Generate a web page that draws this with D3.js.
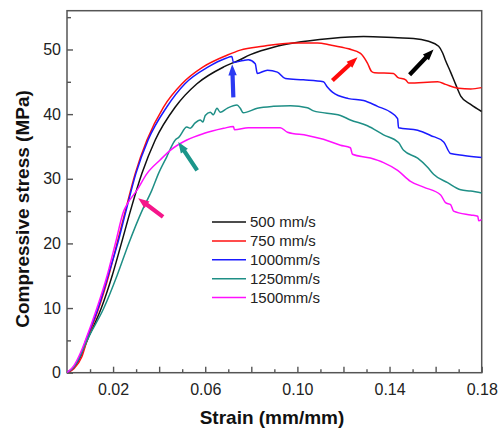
<!DOCTYPE html>
<html>
<head>
<meta charset="utf-8">
<script src="https://cdn.jsdelivr.net/npm/d3@7"></script>
<style>
  html, body { margin: 0; padding: 0; background: #fff; }
  svg { display: block; }
  text { font-family: "Liberation Sans", Arial, sans-serif; }
</style>
</head>
<body>
<svg id="chart" width="501" height="433"></svg>
<script>
// ---------- data (strain mm/mm, stress MPa) ----------
const seriesNames = ["500 mm/s", "750 mm/s", "1000mm/s", "1250mm/s", "1500mm/s"];
const seriesColors = ["#111111", "#ff1010", "#1a1aff", "#1f8f86", "#ff10ff"];

const s500 = [[0,0],[0.003,0.8],[0.006,2.6],[0.009,5.2],[0.0149,10],[0.0196,15],[0.0236,20],[0.0275,25],[0.0325,30.8],[0.0383,36],[0.047,41.1],[0.0564,44.7],[0.068,47.3],[0.0744,48.3],[0.0796,49.2],[0.09,50.4],[0.0983,51.0],[0.1143,51.7],[0.1287,52.0],[0.1435,51.8],[0.1504,51.7],[0.1565,51.3],[0.1613,50.5],[0.163,49.5],[0.1643,48.3],[0.1665,46.5],[0.1687,44.6],[0.1709,42.8],[0.1752,41.5],[0.18,40.4]];

const s750 = [[0,0],[0.003,0.6],[0.0065,2.5],[0.0087,5],[0.0138,10],[0.0181,15],[0.0217,20],[0.0253,25],[0.0296,30.8],[0.0347,36],[0.0419,41.1],[0.0499,44.7],[0.0591,47.3],[0.0694,49.1],[0.0752,49.9],[0.085,50.5],[0.0983,51.0],[0.1087,51.0],[0.1143,50.7],[0.1222,50.1],[0.1274,49.4],[0.1304,47.9],[0.1322,46.6],[0.1335,46.4],[0.1417,46.3],[0.1435,45.7],[0.147,45.3],[0.1483,44.8],[0.1609,45.0],[0.1643,44.6],[0.17,44.0],[0.1752,43.9],[0.18,44.1]];

const s1000 = [[0,0],[0.003,0.9],[0.006,2.8],[0.0082,5],[0.0135,10],[0.0178,15],[0.022,20],[0.0256,25],[0.0299,30.8],[0.0352,36],[0.0433,41.1],[0.0512,44.7],[0.0613,47.3],[0.0687,48.6],[0.0716,48.9],[0.0722,48.0],[0.0765,48.3],[0.0787,48.4],[0.0817,47.8],[0.0826,46.3],[0.087,46.8],[0.0913,46.5],[0.0948,45.5],[0.1026,45.3],[0.1113,45.0],[0.113,44.2],[0.1152,43.4],[0.1222,42.4],[0.1287,42.1],[0.1348,41.2],[0.1404,40.3],[0.1435,39.3],[0.1439,37.9],[0.1522,37.5],[0.1578,36.7],[0.1635,35.7],[0.1665,33.9],[0.1722,33.6],[0.18,33.3]];

const s1250 = [[0,0],[0.003,0.9],[0.006,2.8],[0.0087,5],[0.016,10],[0.0217,15],[0.0268,20],[0.0325,25],[0.0368,28.2],[0.0397,30.8],[0.0433,33.4],[0.047,36],[0.0485,36.4],[0.052,38],[0.0535,37.8],[0.0555,38.6],[0.0578,39.1],[0.059,38.8],[0.06,39.8],[0.0622,40.3],[0.0635,39.9],[0.0651,40.9],[0.0665,40.3],[0.0695,40.9],[0.0738,41.4],[0.0752,40.9],[0.0765,40.2],[0.0826,40.9],[0.0896,41.2],[0.097,41.3],[0.1043,41.0],[0.107,40.5],[0.1187,39.8],[0.123,39.1],[0.1304,38.2],[0.1374,36.8],[0.1439,35.6],[0.1461,34.4],[0.1522,33.2],[0.1565,31.8],[0.1591,30.7],[0.1652,29.4],[0.1709,28.3],[0.1752,28.1],[0.18,27.8]];

const s1500 = [[0,0],[0.003,1.1],[0.006,3.2],[0.008,5],[0.013,10],[0.0174,15],[0.021,20],[0.0246,25],[0.0265,26.3],[0.0303,28.2],[0.0347,30.8],[0.0404,32.9],[0.0448,34.4],[0.052,36],[0.0593,37],[0.068,37.8],[0.0722,38.1],[0.0727,37.6],[0.0787,37.9],[0.0926,37.9],[0.0957,37.2],[0.1043,36.7],[0.1113,36.1],[0.1187,35.2],[0.123,34.8],[0.1239,33.8],[0.1317,33.2],[0.1374,32.5],[0.1435,31.3],[0.1491,29.6],[0.1548,28.7],[0.1622,27.5],[0.1643,26.3],[0.1665,26.0],[0.1678,25.0],[0.1752,24.4],[0.1783,24.2],[0.1787,23.5],[0.18,23.7]];

const allSeries = [s500, s750, s1000, s1250, s1500];

// arrows: [tailStrain, tailStress, tipStrain, tipStress]
const arrowData = [
  [0.0417, 24.1, 0.0309, 27.0],
  [0.0565, 31.3, 0.0483, 35.7],
  [0.0722, 42.6, 0.0717, 47.7],
  [0.1152, 45.2, 0.1261, 48.8],
  [0.1487, 46.1, 0.1591, 50.0]
];
const arrowColors = ["#f5168a", "#1b968a", "#2b3af2", "#ff0a0a", "#000000"];

const xMajor = [0.02,0.04,0.06,0.08,0.10,0.12,0.14,0.16,0.18];
const xLabels = [0.02,0.06,0.10,0.14,0.18];
const xMinor = [0.01,0.03,0.05,0.07,0.09,0.11,0.13,0.15,0.17];
const yMajor = [0,10,20,30,40,50];
const yMinor = [5,15,25,35,45,55];

// ---------- layout ----------
const L = 67, R = 481.7, T = 10.7, B = 372.7;
const svg = d3.select("#chart");
const x = d3.scaleLinear().domain([0, 0.18]).range([L, R]);
const y = d3.scaleLinear().domain([0, 56]).range([B, T]);

svg.append("defs").append("clipPath").attr("id","clip")
  .append("rect").attr("x", L).attr("y", T).attr("width", R - L).attr("height", B - T);

// axes
const fmt = d3.format(".2f");
const gx = svg.append("g").attr("transform", `translate(0,${B})`)
  .call(d3.axisBottom(x).tickValues(xMajor).tickSize(-6).tickPadding(11)
    .tickFormat(d => xLabels.some(v => Math.abs(v - d) < 1e-9) ? fmt(d) : ""));
const gxm = svg.append("g").attr("transform", `translate(0,${B})`)
  .call(d3.axisBottom(x).tickValues(xMinor).tickSize(-3.5).tickFormat(""));
const gy = svg.append("g").attr("transform", `translate(${L},0)`)
  .call(d3.axisLeft(y).tickValues(yMajor).tickSize(-6).tickPadding(6).tickFormat(d3.format("d")));
const gym = svg.append("g").attr("transform", `translate(${L},0)`)
  .call(d3.axisLeft(y).tickValues(yMinor).tickSize(-4).tickFormat(""));

[gx, gxm, gy, gym].forEach(g => {
  g.select(".domain").remove();
  g.selectAll(".tick line").attr("stroke", "#555").attr("stroke-width", 1.4);
  g.selectAll(".tick text").attr("fill", "#222").style("font-size", "16px")
    .style("font-family", "'Liberation Sans', Arial, sans-serif");
});

// frame
svg.append("rect").attr("x", L).attr("y", T).attr("width", R - L).attr("height", B - T)
  .attr("fill", "none").attr("stroke", "#555").attr("stroke-width", 1.5);

// lines
const line = d3.line().x(d => x(d[0])).y(d => y(d[1])).curve(d3.curveMonotoneX);
const plot = svg.append("g").attr("clip-path", "url(#clip)");
plot.selectAll("path.series").data(allSeries).join("path")
  .attr("class", "series")
  .attr("d", line)
  .attr("fill", "none")
  .attr("stroke", (d, i) => seriesColors[i])
  .attr("stroke-width", 1.5)
  .attr("stroke-linejoin", "round");

// arrows
arrowData.forEach((a, i) => {
  const x0 = x(a[0]), y0 = y(a[1]), x1 = x(a[2]), y1 = y(a[3]);
  const dx = x1 - x0, dy = y1 - y0, len = Math.hypot(dx, dy);
  const ux = dx / len, uy = dy / len, px = -uy, py = ux;
  const headL = 11, headW = 4.2, shaftW = 2.1;
  const bx = x1 - ux * headL, by = y1 - uy * headL;
  const pts = [
    [x0 + px * shaftW, y0 + py * shaftW],
    [bx + px * shaftW, by + py * shaftW],
    [bx + px * headW, by + py * headW],
    [x1, y1],
    [bx - px * headW, by - py * headW],
    [bx - px * shaftW, by - py * shaftW],
    [x0 - px * shaftW, y0 - py * shaftW]
  ];
  svg.append("path").attr("d", "M" + pts.map(p => p.join(",")).join("L") + "Z")
    .attr("fill", arrowColors[i]);
});

// legend
const lg = svg.append("g");
seriesNames.forEach((name, i) => {
  const by = 227.3 + i * 18.9;
  lg.append("line").attr("x1", 212).attr("x2", 246).attr("y1", by - 5.3).attr("y2", by - 5.3)
    .attr("stroke", seriesColors[i]).attr("stroke-width", 1.5);
  lg.append("text").attr("x", 250).attr("y", by).text(name)
    .style("font-size", "15px").attr("fill", "#222");
});

// axis titles
svg.append("text").attr("x", 272).attr("y", 424).attr("text-anchor", "middle")
  .style("font-size", "19px").style("font-weight", "bold").attr("fill", "#111")
  .text("Strain (mm/mm)");
svg.append("text").attr("transform", "translate(29,209) rotate(-90)").attr("text-anchor", "middle")
  .style("font-size", "19px").style("font-weight", "bold").attr("fill", "#111")
  .text("Compressive stress (MPa)");
</script>
</body>
</html>
